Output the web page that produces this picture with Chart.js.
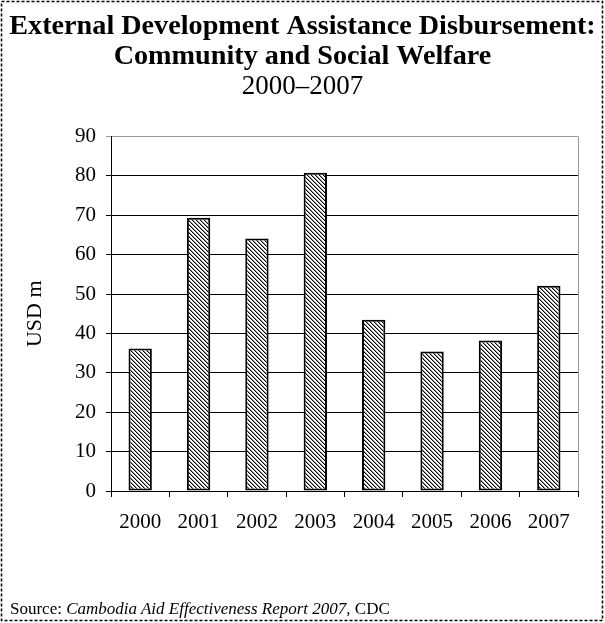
<!DOCTYPE html>
<html>
<head>
<meta charset="utf-8">
<script src="https://cdn.jsdelivr.net/npm/chart.js@4.4.0/dist/chart.umd.min.js"></script>
<style>
  html, body { margin: 0; padding: 0; background: #fff; }
  #wrap { position: relative; width: 605px; height: 623px; }
  #c { position: absolute; left: 0; top: 0; }
  #source { position: absolute; left: 10px; top: 599px; font-family: 'Liberation Serif', 'Times New Roman', serif; font-size: 17px; line-height: 20px; color: #000; white-space: nowrap; }
</style>
</head>
<body>
<div id="wrap">
  <canvas id="c" width="605" height="623"></canvas>
  <div id="source">Source: <i>Cambodia Aid Effectiveness Report 2007</i>, CDC</div>
</div>
<script>
const titleLines = ['External Development Assistance Disbursement:', 'Community and Social Welfare'];
const subtitleText = '2000\u20132007';
const categories = ['2000', '2001', '2002', '2003', '2004', '2005', '2006', '2007'];
const values = [36.2, 69.4, 64.1, 80.8, 43.5, 35.4, 38.2, 52.1];
const yTicks = [0, 10, 20, 30, 40, 50, 60, 70, 80, 90];
const yTitle = 'USD m';

function makeHatch() {
  const t = document.createElement('canvas');
  t.width = 8; t.height = 8;
  const g = t.getContext('2d');
  const img = g.createImageData(8, 8);
  for (let y = 0; y < 8; y++) {
    for (let x = 0; x < 8; x++) {
      const m = ((x - y) % 4 + 4) % 4;
      let v = 255;
      if (m === 0) v = 0;
      else if (m === 1) v = 150;
      const i = (y * 8 + x) * 4;
      img.data[i] = v; img.data[i + 1] = v; img.data[i + 2] = v; img.data[i + 3] = 255;
    }
  }
  g.putImageData(img, 0, 0);
  return document.getElementById('c').getContext('2d').createPattern(t, 'repeat');
}

const frame = {
  id: 'frame',
  afterDraw(chart) {
    const ctx = chart.ctx;
    const a = chart.chartArea;
    ctx.save();
    ctx.strokeStyle = '#9a9a9a';
    ctx.lineWidth = 1;
    ctx.beginPath();
    ctx.moveTo(Math.round(a.right) + 0.5, a.top);
    ctx.lineTo(Math.round(a.right) + 0.5, a.bottom);
    ctx.stroke();
    ctx.strokeStyle = '#000';
    ctx.lineWidth = 1.5;
    ctx.setLineDash([3, 2]);
    ctx.strokeRect(1.5, 1.5, 601, 619);
    ctx.restore();
  }
};

const serif = "'Liberation Serif', 'Times New Roman', serif";

new Chart(document.getElementById('c'), {
  type: 'bar',
  data: {
    labels: categories,
    datasets: [{
      data: values,
      backgroundColor: makeHatch(),
      borderColor: '#000',
      borderWidth: 2,
      borderSkipped: false,
      categoryPercentage: 1,
      barPercentage: 0.4
    }]
  },
  options: {
    responsive: false,
    devicePixelRatio: 1,
    animation: false,
    events: [],
    layout: { padding: { left: 0, right: 0, top: 0, bottom: 89 } },
    plugins: {
      legend: { display: false },
      tooltip: { enabled: false },
      title: {
        display: true,
        text: titleLines,
        color: '#000',
        font: { family: serif, size: 28.2, weight: 'bold', lineHeight: 1.06 },
        padding: { top: 12, bottom: 0 }
      },
      subtitle: {
        display: true,
        text: subtitleText,
        color: '#000',
        font: { family: serif, size: 27, weight: 'normal', lineHeight: 1.1 },
        padding: { top: 0, bottom: 35 }
      }
    },
    scales: {
      x: {
        grid: { display: true, drawOnChartArea: false, drawTicks: true, tickLength: 6, color: '#000', offset: true },
        border: { display: true, color: '#000', width: 1 },
        ticks: { color: '#000', font: { family: serif, size: 21 }, padding: 13, maxRotation: 0, autoSkip: false },
        afterFit(s) { s.height = 43; }
      },
      y: {
        min: 0,
        max: 90,
        afterBuildTicks(s) { s.ticks = yTicks.map(v => ({ value: v })); },
        grid: {
          color: (c) => (c.tick && c.tick.value === 90 ? '#9a9a9a' : '#000'),
          lineWidth: 1,
          tickLength: 5,
          drawTicks: true
        },
        border: { display: true, color: '#000', width: 1 },
        ticks: { color: '#000', font: { family: serif, size: 21 }, padding: 10 },
        title: { display: true, text: yTitle, color: '#000', font: { family: serif, size: 22 }, padding: { top: 22, bottom: 0 } },
        afterFit(s) { s.width = 111; }
      },
      yRight: {
        position: 'right',
        min: 0,
        max: 90,
        grid: { display: false, drawOnChartArea: false },
        border: { display: false },
        ticks: { display: false },
        afterFit(s) { s.width = 27; }
      }
    }
  },
  plugins: [frame]
});
</script>
</body>
</html>
